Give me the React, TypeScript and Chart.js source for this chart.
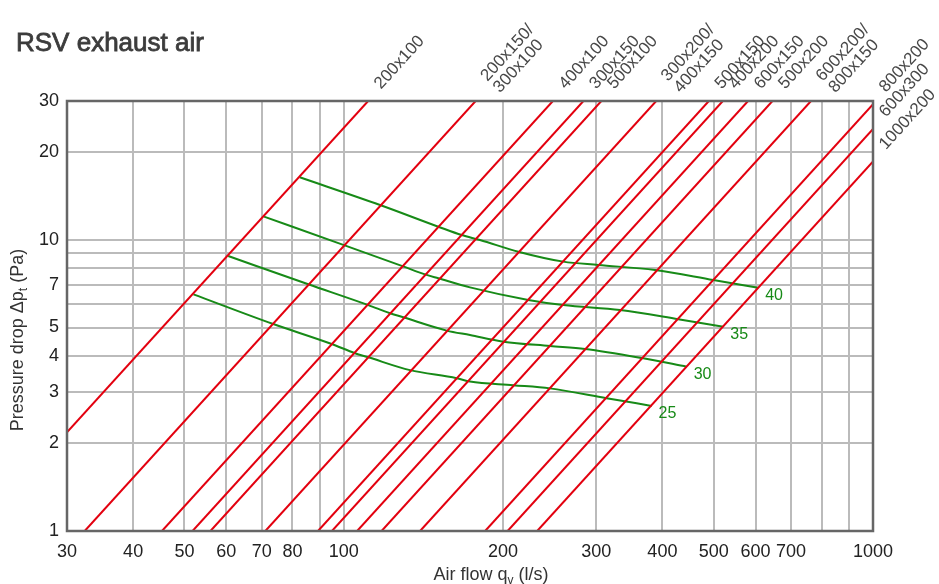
import React, { useEffect, useRef } from 'react';
import { Chart, registerables } from 'chart.js';

Chart.register(...registerables);

const FONT = '"Liberation Sans", Arial, Helvetica, sans-serif';

// Axis ticks
const flowAxisTicks = [30, 40, 50, 60, 70, 80, 90, 100, 200, 300, 400, 500, 600, 700, 800, 900, 1000];
const flowAxisLabels = [30, 40, 50, 60, 70, 80, 100, 200, 300, 400, 500, 600, 700, 1000];
const pressureAxisTicks = [1, 2, 3, 4, 5, 6, 7, 8, 9, 10, 20, 30];
const pressureAxisLabels = [1, 2, 3, 4, 5, 7, 10, 20, 30];

// Duct size lines (red): air flow at 1 Pa and at 30 Pa
const ductSizes = [
  '200x100', '200x150/300x100', '400x100', '300x150', '500x100', '300x200/400x150',
  '500x150', '400x200', '600x150', '500x200', '600x200/800x150', '800x200', '600x300', '1000x200',
];
const flowAt1Pa = [20.3, 32.4, 45.35, 51.8, 56.0, 71.1, 89.4, 95, 106, 117.9, 139.4, 185, 204, 232];
const flowAt30Pa = [111.2, 177.5, 248.4, 283.7, 306.7, 389.4, 489.6, 520.3, 580.6, 645.7, 763.5, 1013.2, 1117.3, 1270.7];
const lineDropLow = 1;
const lineDropHigh = 30;

// Sound level curves (green), dB(A)
const soundLevels = [25, 30, 35, 40];
const flow25 = [52.0, 73.6, 94.9, 105, 111.3, 133.4, 163.4, 173.2, 209.1, 245.3, 313.8, 381.7];
const drop25 = [6.5, 5.14, 4.39, 4.08, 3.95, 3.57, 3.35, 3.26, 3.17, 3.09, 2.86, 2.69];
const flow30 = [60.5, 85.7, 111.3, 122.3, 129.6, 156.5, 173.2, 200.2, 245.3, 285.6, 368.1, 444.6];
const drop30 = [8.8, 7.04, 5.97, 5.6, 5.42, 4.88, 4.71, 4.47, 4.32, 4.22, 3.92, 3.67];
const flow35 = [70.7, 99.8, 128.7, 143.4, 150.9, 173.2, 223.2, 259.9, 332.7, 428.6, 521.4];
const drop35 = [12.02, 9.61, 8.14, 7.58, 7.38, 6.87, 6.22, 5.97, 5.74, 5.34, 5.03];
const flow40 = [82.6, 117.1, 150.9, 167, 180.9, 213.7, 259.9, 302.6, 387.3, 499.2, 606.9];
const drop40 = [16.41, 13.18, 11.1, 10.39, 9.99, 9.11, 8.42, 8.2, 7.88, 7.28, 6.85];

const soundFlows = [flow25, flow30, flow35, flow40];
const soundDrops = [drop25, drop30, drop35, drop40];

const RED = '#e3000f';
const GREEN = '#178a17';

const overlayPlugin = {
  id: 'overlay',
  afterDraw(chart: any) {
    const { ctx, chartArea: a, scales } = chart;
    const xs = scales.x;
    const ys = scales.y;
    ctx.save();

    // frame
    ctx.strokeStyle = '#666';
    ctx.lineWidth = 2.5;
    ctx.strokeRect(a.left, a.top, a.right - a.left, a.bottom - a.top);

    // title
    ctx.fillStyle = '#3c3c3c';
    ctx.strokeStyle = '#3c3c3c';
    ctx.lineWidth = 0.8;
    ctx.font = `26px ${FONT}`;
    ctx.textAlign = 'left';
    ctx.textBaseline = 'alphabetic';
    ctx.fillText('RSV exhaust air', 16, 51);
    ctx.strokeText('RSV exhaust air', 16, 51);

    // duct size labels
    ctx.fillStyle = '#484848';
    ctx.font = `17px ${FONT}`;
    ductSizes.forEach((label, i) => {
      const x0 = xs.getPixelForValue(flowAt1Pa[i]);
      const y0 = ys.getPixelForValue(lineDropLow);
      const x1 = xs.getPixelForValue(flowAt30Pa[i]);
      const y1 = ys.getPixelForValue(lineDropHigh);
      const dx = x1 - x0;
      const dy = y1 - y0;
      const len = Math.hypot(dx, dy);
      const ux = dx / len;
      const uy = dy / len;
      let ex: number, ey: number;
      if (x1 <= a.right + 0.5) {
        ex = x1; ey = y1;
      } else {
        ex = a.right; ey = y0 + ((a.right - x0) * dy) / dx;
      }
      const angle = Math.atan2(dy, dx);
      const slash = label.indexOf('/');
      const parts = slash >= 0 ? [label.slice(0, slash + 1), label.slice(slash + 1)] : [label];
      const along = parts.length > 1 ? 22 : 17;
      const perps = parts.length > 1 ? [-4, 13] : [2];
      parts.forEach((p, k) => {
        const px = ex + ux * along + -uy * perps[k];
        const py = ey + uy * along + ux * perps[k];
        ctx.save();
        ctx.translate(px, py);
        ctx.rotate(angle);
        ctx.fillText(p, 0, 0);
        ctx.restore();
      });
    });

    // sound level labels
    ctx.fillStyle = GREEN;
    ctx.font = `16px ${FONT}`;
    ctx.textBaseline = 'middle';
    soundLevels.forEach((lvl, i) => {
      const f = soundFlows[i];
      const d = soundDrops[i];
      const x = xs.getPixelForValue(f[f.length - 1]);
      const y = ys.getPixelForValue(d[d.length - 1]);
      ctx.fillText(String(lvl), x + 7, y + 8);
    });

    // axis titles
    ctx.fillStyle = '#333';
    ctx.textBaseline = 'alphabetic';
    const big = `18px ${FONT}`;
    const small = `12px ${FONT}`;
    const drawParts = (pieces: [string, boolean][], cx: number, baseY: number) => {
      let total = 0;
      pieces.forEach(([t, sub]) => { ctx.font = sub ? small : big; total += ctx.measureText(t).width; });
      let x = cx - total / 2;
      pieces.forEach(([t, sub]) => {
        ctx.font = sub ? small : big;
        ctx.fillText(t, x, sub ? baseY + 4 : baseY);
        x += ctx.measureText(t).width;
      });
    };
    drawParts([['Air flow q', false], ['v', true], [' (l/s)', false]], 491, 580);
    ctx.save();
    ctx.translate(23, 340);
    ctx.rotate(-Math.PI / 2);
    drawParts([['Pressure drop Δp', false], ['t', true], [' (Pa)', false]], 0, 0);
    ctx.restore();

    ctx.restore();
  },
};

export default function App() {
  const ref = useRef<HTMLCanvasElement>(null);

  useEffect(() => {
    const redSets = ductSizes.map((label, i) => ({
      label,
      data: [
        { x: flowAt1Pa[i], y: lineDropLow },
        { x: flowAt30Pa[i], y: lineDropHigh },
      ],
      borderColor: RED,
      borderWidth: 2,
      showLine: true,
      pointRadius: 0,
      clip: 0,
    }));
    const greenSets = soundLevels.map((lvl, i) => ({
      label: `${lvl} dB(A)`,
      data: soundFlows[i].map((x, j) => ({ x, y: soundDrops[i][j] })),
      borderColor: GREEN,
      borderWidth: 2,
      showLine: true,
      pointRadius: 0,
      cubicInterpolationMode: 'monotone' as const,
      clip: 0,
    }));

    const chart = new Chart(ref.current as HTMLCanvasElement, {
      type: 'scatter',
      data: { datasets: [...redSets, ...greenSets] as any },
      options: {
        responsive: false,
        animation: false,
        devicePixelRatio: 1,
        layout: { padding: { top: 101, right: 66, left: 0, bottom: 0 } },
        plugins: {
          legend: { display: false },
          tooltip: { enabled: false },
          title: { display: false },
        },
        scales: {
          x: {
            type: 'logarithmic',
            min: 30,
            max: 1000,
            afterBuildTicks: (axis: any) => {
              axis.ticks = flowAxisTicks.map((v) => ({ value: v }));
            },
            afterFit: (axis: any) => {
              axis.height = 53;
            },
            ticks: {
              autoSkip: false,
              maxRotation: 0,
              minRotation: 0,
              padding: 10,
              color: '#222',
              font: { family: FONT, size: 18 },
              callback: (v: any) => (flowAxisLabels.includes(Number(v)) ? String(v) : ''),
            },
            grid: { color: '#bbbbbb', lineWidth: 2, drawTicks: false },
            border: { display: false },
          },
          y: {
            type: 'logarithmic',
            min: 1,
            max: 30,
            afterBuildTicks: (axis: any) => {
              axis.ticks = pressureAxisTicks.map((v) => ({ value: v }));
            },
            afterFit: (axis: any) => {
              axis.width = 67;
            },
            ticks: {
              autoSkip: false,
              padding: 8,
              color: '#222',
              font: { family: FONT, size: 18 },
              callback: (v: any) => (pressureAxisLabels.includes(Number(v)) ? String(v) : ''),
            },
            grid: { color: '#bbbbbb', lineWidth: 2, drawTicks: false },
            border: { display: false },
          },
        },
      },
      plugins: [overlayPlugin],
    });
    return () => chart.destroy();
  }, []);

  return (
    <div style={{ position: 'absolute', left: 0, top: 0, width: 939, height: 584, background: '#fff' }}>
      <canvas ref={ref} width={939} height={584} style={{ display: 'block', width: 939, height: 584 }} />
    </div>
  );
}
